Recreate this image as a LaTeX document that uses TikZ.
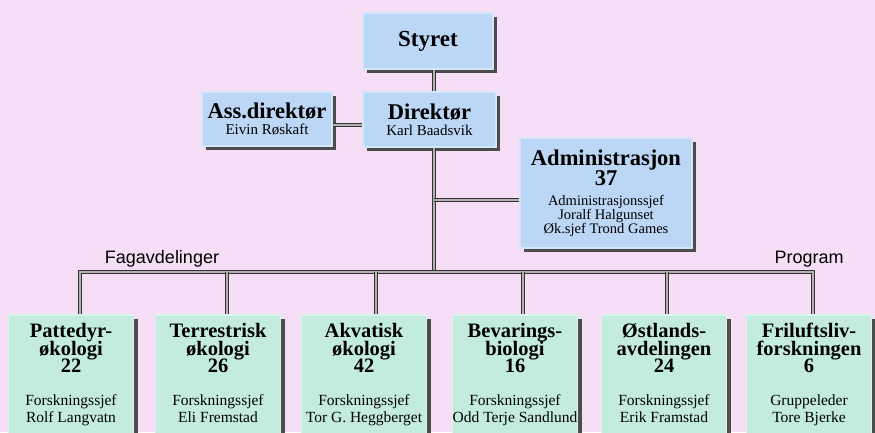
\documentclass[tikz,border=0pt]{standalone}
\usepackage{fontspec}
\setmainfont{Liberation Serif}
\newfontfamily\labelfont{Liberation Sans}
\usetikzlibrary{shadows}

\definecolor{bgpink}{RGB}{246,222,246}
\definecolor{unitblue}{RGB}{188,214,245}
\definecolor{unitblueedge}{RGB}{212,230,250}
\definecolor{unitgreen}{RGB}{196,236,222}
\definecolor{unitgreenedge}{RGB}{216,245,235}

\newcommand{\tightlines}{\lineskiplimit=-50pt\relax}
\newcommand{\unitname}[1]{{\fontsize{22.5}{16}\selectfont\bfseries #1}}
\newcommand{\staffname}[1]{{\fontsize{15.5}{17}\selectfont\mdseries #1}}
% title lines, head count, role, name
\newcommand{\deptbody}[5]{\rule{0pt}{15pt}#1\\#2\\#3\\[15pt]\staffname{#4}\\\staffname{#5\rule[-5pt]{0pt}{5pt}}}

\tikzset{
  unit/.style={draw, line width=1.2pt, align=center, inner sep=0pt,
    drop shadow={shadow xshift=4pt, shadow yshift=-4pt, fill=black!70, opacity=1}},
  leader/.style={unit, fill=unitblue, draw=unitblueedge,
    font=\fontsize{15}{16}\selectfont\tightlines},
  dept/.style={unit, fill=unitgreen, draw=unitgreenedge,
    minimum width=125pt, minimum height=120pt,
    font=\fontsize{20.5}{17.5}\selectfont\bfseries\tightlines},
  heading/.style={font=\labelfont\fontsize{18}{18}\selectfont, anchor=base},
  link/.style={draw=black!80, line width=1.1pt, double=black!30, double distance=1.2pt},
}

\begin{document}
\begin{tikzpicture}[x=1pt, y=-1pt]
  \useasboundingbox (0,0) rectangle (875,432);
  \clip (0,0) rectangle (875,432);
  \fill[bgpink] (0,0) rectangle (875,432);

  % Nodes
  \node[leader, minimum width=130pt, minimum height=56pt,
    font=\fontsize{23}{23}\selectfont\bfseries] (styret) at (428,41) {Styret};
  \node[leader, minimum width=133pt, minimum height=55pt] (dir) at (429.5,119.5)
    {\unitname{Direktør}\\Karl Baadsvik};
  \node[leader, minimum width=130pt, minimum height=54pt] (ass) at (267,119)
    {\unitname{Ass.direktør}\\Eivin Røskaft};
  \node[leader, minimum width=172pt, minimum height=110pt,
    font=\fontsize{14.5}{14}\selectfont\tightlines] (admin) at (606,193)
    {\unitname{Administrasjon}\\[6pt]\unitname{37}\\[6pt]Administrasjonssjef\\Joralf Halgunset\\Øk.sjef Trond Games};

  \node[dept] (patt) at (71,375)
    {\deptbody{Pattedyr-}{økologi}{22}{Forskningssjef}{Rolf Langvatn}};
  \node[dept] (terr) at (218,375)
    {\deptbody{Terrestrisk}{økologi}{26}{Forskningssjef}{Eli Fremstad}};
  \node[dept] (akva) at (364,375)
    {\deptbody{Akvatisk}{økologi}{42}{Forskningssjef}{Tor G. Heggberget}};
  \node[dept] (bev) at (515,375)
    {\deptbody{Bevarings-}{biologi}{16}{Forskningssjef}{Odd Terje Sandlund}};
  \node[dept] (ost) at (664,375)
    {\deptbody{Østlands-}{avdelingen}{24}{Forskningssjef}{Erik Framstad}};
  \node[dept] (fril) at (809,375)
    {\deptbody{Friluftsliv-}{forskningen}{6}{Gruppeleder}{Tore Bjerke}};

  \node[heading] (fag) at (162,263) {Fagavdelinger};
  \node[heading] (prog) at (809,263) {Program};

  % Lines
  \coordinate (bus) at (434,272);
  \coordinate (adminin) at ([yshift=-7pt]admin.west);
  \coordinate (assout) at ([yshift=-6pt]ass.east);
  \foreach \n/\s in {patt/9,terr/9,akva/12,bev/8,ost/3,fril/4}
    \coordinate (drop-\n) at ([xshift=\s pt]\n.north);

  \draw[link] (styret.south -| bus) -- (dir.north -| bus);
  \draw[link] (assout) -- (assout -| dir.west);
  \draw[link] (dir.south -| bus) -- (bus);
  \draw[link] (adminin -| bus) -- (adminin);
  \draw[link] (drop-patt) |- (bus) -| (drop-fril);
  \foreach \n in {terr,akva,bev,ost}
    \draw[link] (drop-\n |- bus) -- (drop-\n);
\end{tikzpicture}
\end{document}
